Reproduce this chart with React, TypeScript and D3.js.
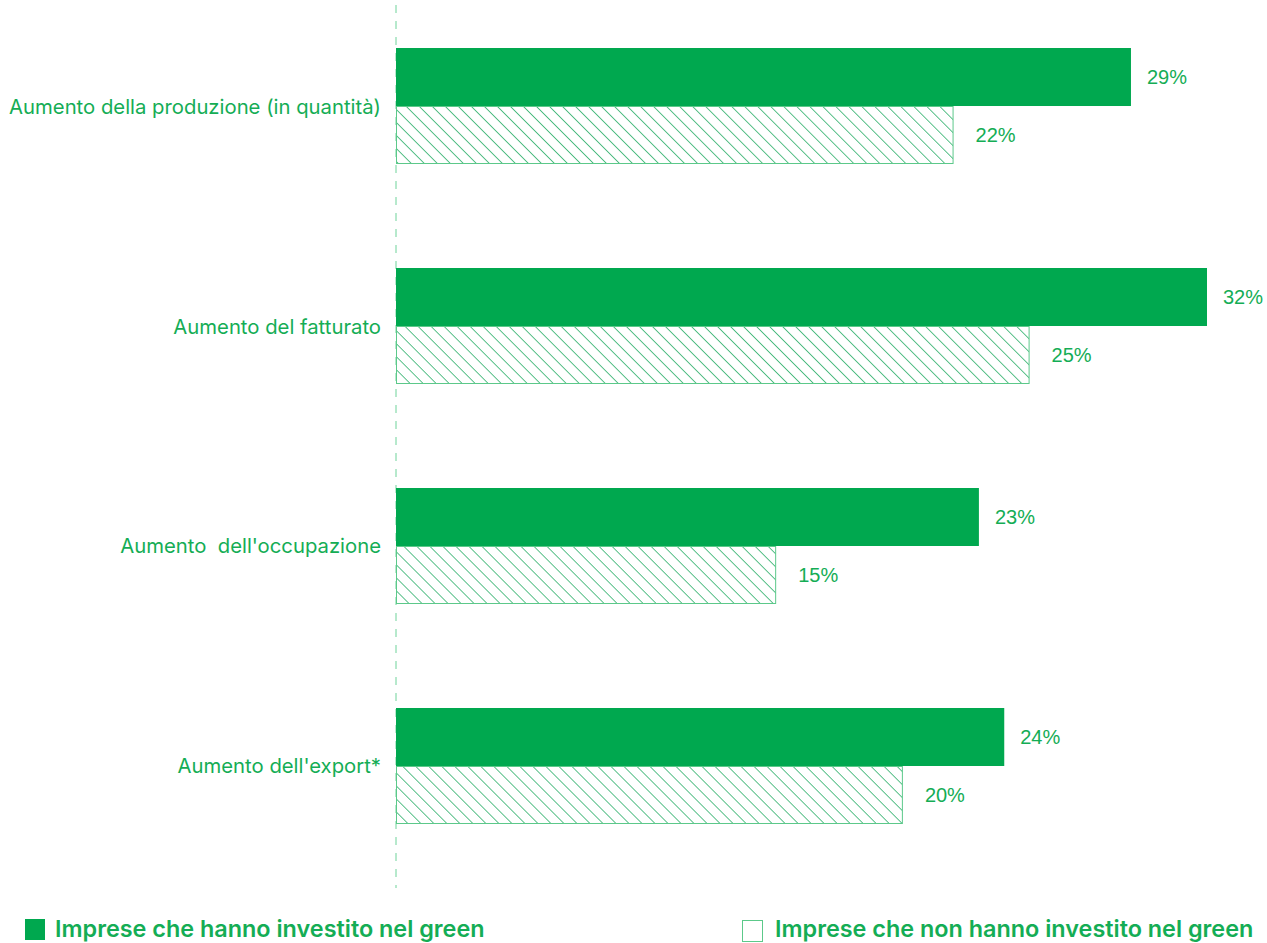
import React, { useEffect, useRef } from 'react';
import * as d3 from 'd3';

// Data
const categories = [
  'Aumento della produzione (in quantità)',
  'Aumento del fatturato',
  'Aumento  dell\'occupazione',
  'Aumento dell\'export*',
];
const greenValues = [29, 32, 23, 24];
const nonGreenValues = [22, 25, 15, 20];
const seriesNames = ['Imprese che hanno investito nel green', 'Imprese che non hanno investito nel green'];

const GREEN = '#00a84f';
const TEXT = '#14ad55';

const App: React.FC = () => {
  const svgRef = useRef<SVGSVGElement>(null);

  useEffect(() => {
    if (!svgRef.current) return;
    const W = 1267;
    const H = 943;
    const svg = d3.select(svgRef.current);
    svg.selectAll('*').remove();
    svg.attr('width', W).attr('height', H);

    // Hatch pattern ("\" diagonal lines)
    const defs = svg.append('defs');
    const pat = defs
      .append('pattern')
      .attr('id', 'hatch')
      .attr('patternUnits', 'userSpaceOnUse')
      .attr('width', 9.2)
      .attr('height', 9.2)
      .attr('patternTransform', 'rotate(-45)');
    pat
      .append('line')
      .attr('x1', 0)
      .attr('y1', 0)
      .attr('x2', 0)
      .attr('y2', 9.2)
      .attr('stroke', '#009e4a')
      .attr('stroke-width', 1.3);

    const x0 = 396;
    const x = d3.scaleLinear().domain([0, 32]).range([x0, 1207]);

    const y = d3
      .scaleBand<string>()
      .domain(categories)
      .range([-4, 876])
      .paddingInner(104 / 220)
      .paddingOuter(0.2364);
    const barH = y.bandwidth() / 2;

    // dashed axis line
    svg
      .append('line')
      .attr('x1', x0)
      .attr('x2', x0)
      .attr('y1', 5)
      .attr('y2', 888)
      .attr('stroke', '#6fd39a')
      .attr('stroke-width', 1)
      .attr('stroke-dasharray', '8,8');

    const g = svg.append('g');

    categories.forEach((c, i) => {
      const top = y(c) || 0;
      // solid bar
      g.append('rect')
        .attr('x', x0)
        .attr('y', top)
        .attr('width', x(greenValues[i]) - x0)
        .attr('height', barH)
        .attr('fill', GREEN);
      // hatched bar
      g.append('rect')
        .attr('x', x0 + 0.5)
        .attr('y', top + barH + 0.5)
        .attr('width', x(nonGreenValues[i]) - x0 - 1)
        .attr('height', barH - 1)
        .attr('fill', 'url(#hatch)')
        .attr('stroke', '#5cc98a')
        .attr('stroke-width', 1);

      // value labels
      g.append('text')
        .attr('x', x(greenValues[i]) + 16)
        .attr('y', top + barH / 2)
        .attr('dominant-baseline', 'central')
        .attr('font-family', 'Liberation Sans, Arial, sans-serif')
        .attr('font-size', 20)
        .attr('fill', TEXT)
        .text(greenValues[i] + '%');
      g.append('text')
        .attr('x', x(nonGreenValues[i]) + 22)
        .attr('y', top + barH * 1.5)
        .attr('dominant-baseline', 'central')
        .attr('font-family', 'Liberation Sans, Arial, sans-serif')
        .attr('font-size', 20)
        .attr('fill', TEXT)
        .text(nonGreenValues[i] + '%');

      // category label
      g.append('text')
        .attr('x', 381)
        .attr('y', top + barH)
        .attr('text-anchor', 'end')
        .attr('dominant-baseline', 'central')
        .attr('font-family', 'Inter, sans-serif')
        .attr('font-size', 20.3)
        .attr('fill', TEXT)
        .style('white-space', 'pre')
        .text(c);
    });

    // Legend
    const legend = svg.append('g').attr('font-family', 'Inter, sans-serif');
    legend
      .append('rect')
      .attr('x', 25)
      .attr('y', 919)
      .attr('width', 20)
      .attr('height', 21)
      .attr('fill', GREEN);
    legend
      .append('text')
      .attr('x', 55)
      .attr('y', 937)
      .attr('font-size', 23.4)
      .attr('font-weight', 600)
      .attr('fill', TEXT)
      .text(seriesNames[0]);
    legend
      .append('rect')
      .attr('x', 742.5)
      .attr('y', 920.5)
      .attr('width', 20)
      .attr('height', 21)
      .attr('fill', 'white')
      .attr('stroke', '#5cc98a');
    legend
      .append('text')
      .attr('x', 775)
      .attr('y', 937)
      .attr('font-size', 23.4)
      .attr('font-weight', 600)
      .attr('fill', TEXT)
      .text(seriesNames[1]);
  }, []);

  return (
    <div style={{ position: 'absolute', left: 0, top: 0, background: 'white' }}>
      <svg ref={svgRef} style={{ display: 'block' }}></svg>
    </div>
  );
};

export default App;
